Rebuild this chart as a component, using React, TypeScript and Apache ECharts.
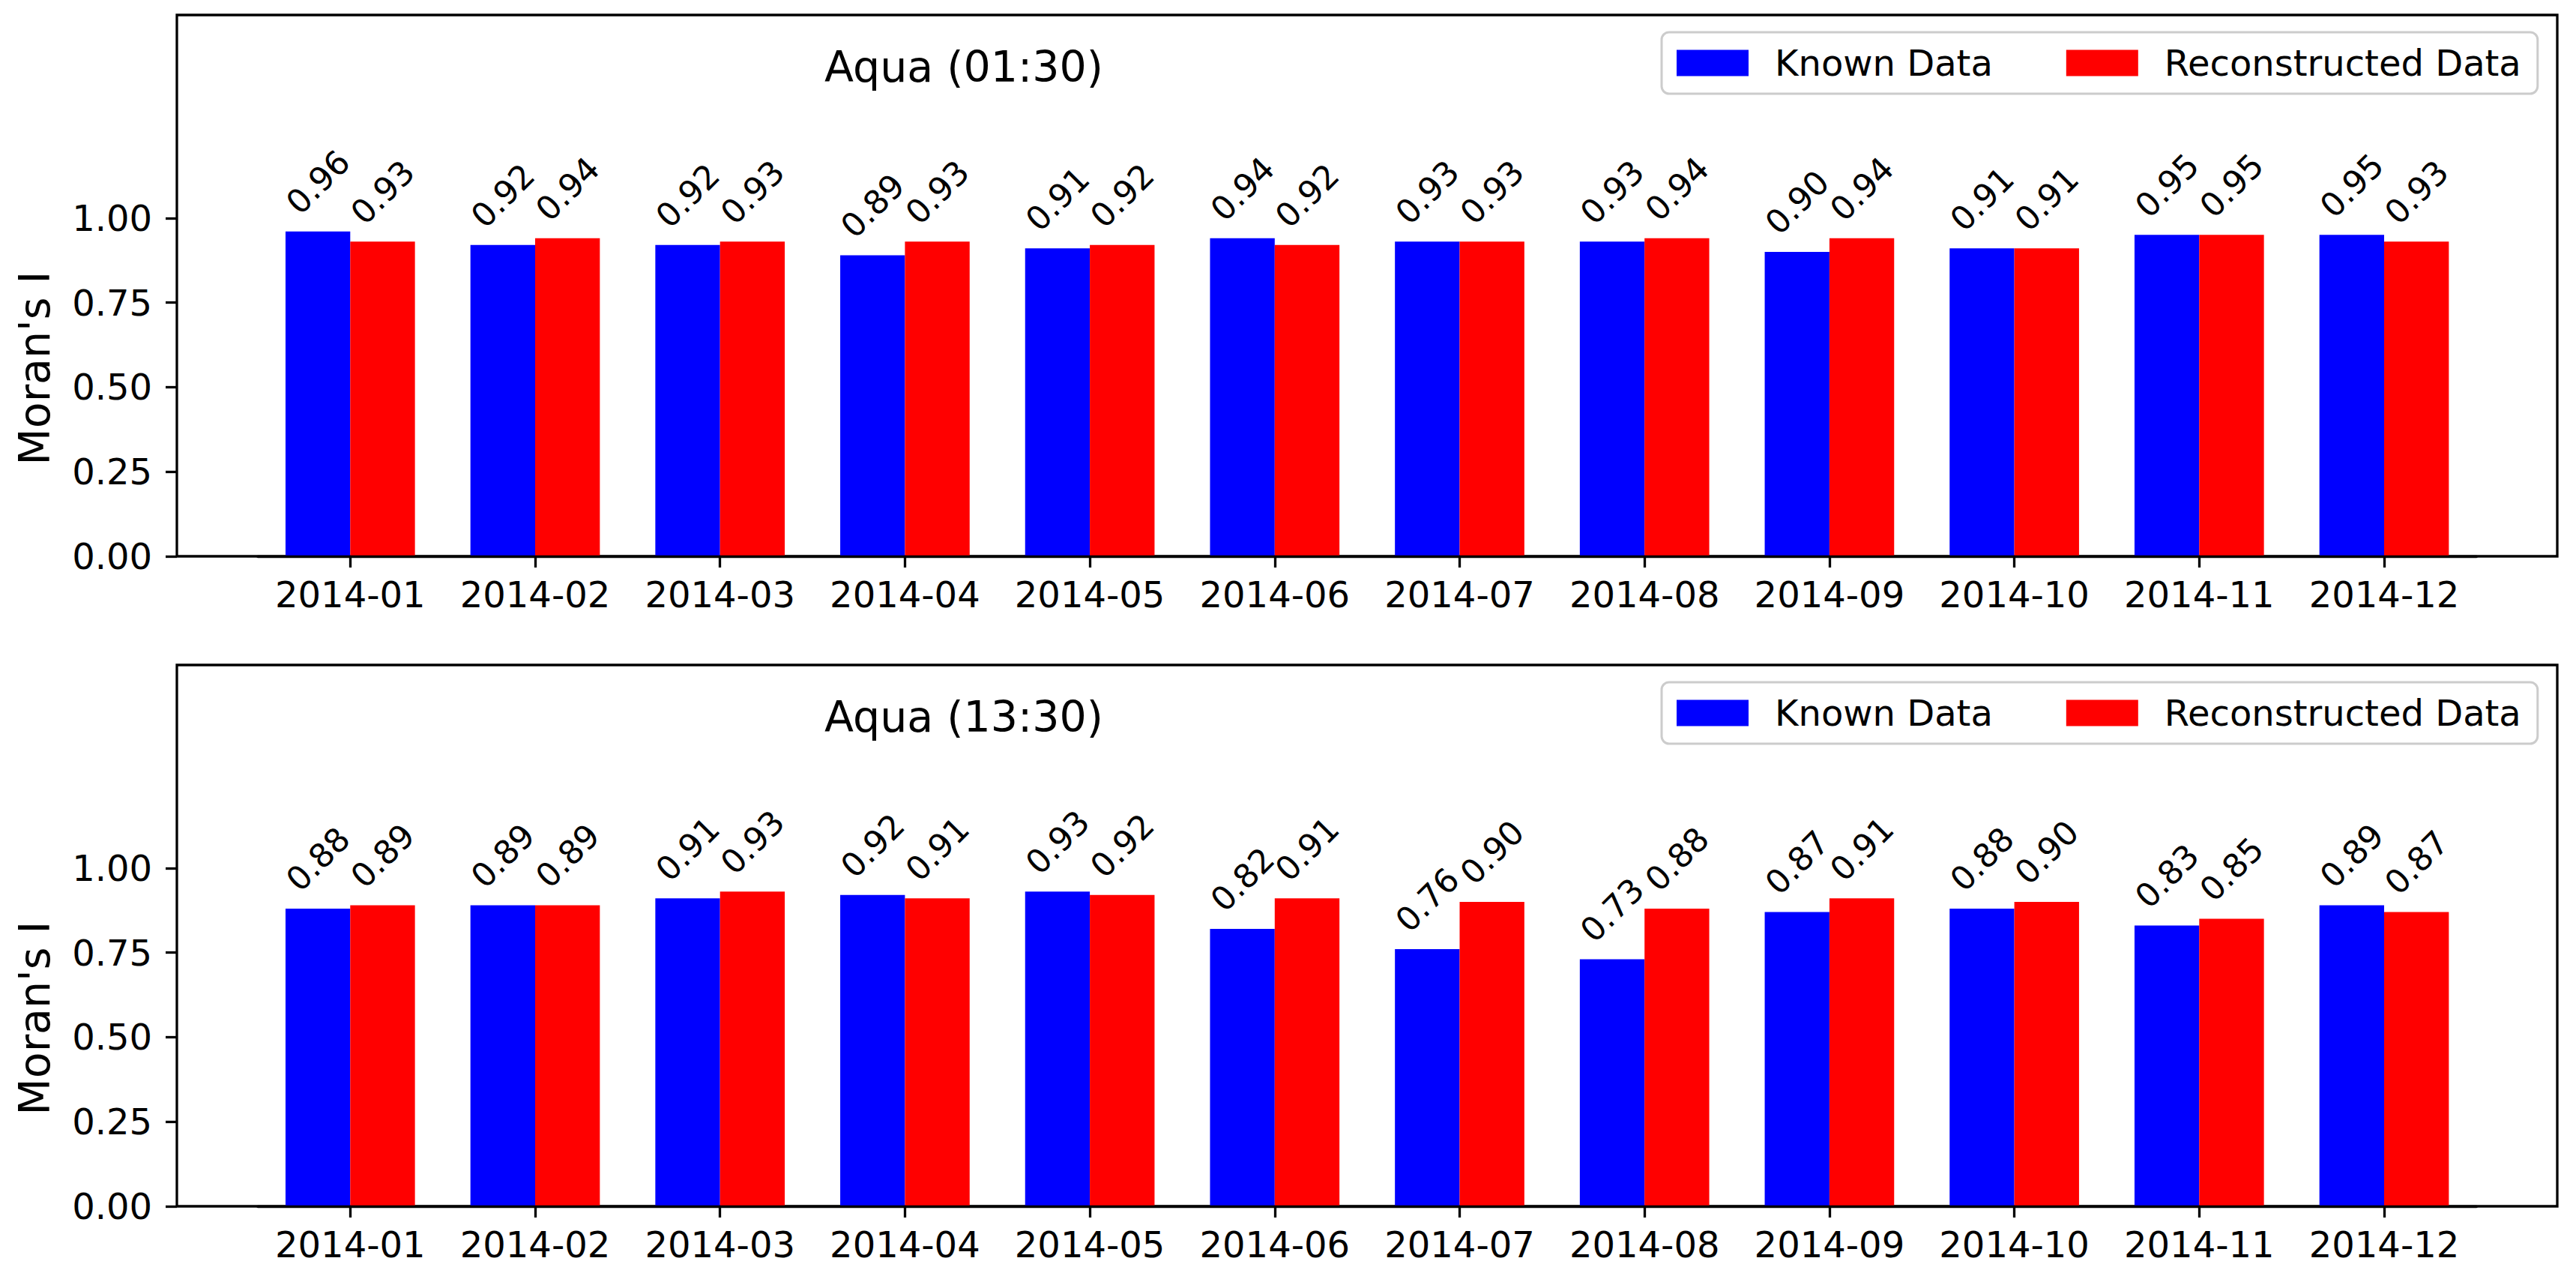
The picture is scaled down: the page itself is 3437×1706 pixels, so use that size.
import React, { useEffect, useRef } from "react";
import * as echarts from "echarts";

const months = [
  "2014-01", "2014-02", "2014-03", "2014-04", "2014-05", "2014-06",
  "2014-07", "2014-08", "2014-09", "2014-10", "2014-11", "2014-12",
];
const knownAM = [0.96, 0.92, 0.92, 0.89, 0.91, 0.94, 0.93, 0.93, 0.90, 0.91, 0.95, 0.95];
const reconAM = [0.93, 0.94, 0.93, 0.93, 0.92, 0.92, 0.93, 0.94, 0.94, 0.91, 0.95, 0.93];
const knownPM = [0.88, 0.89, 0.91, 0.92, 0.93, 0.82, 0.76, 0.73, 0.87, 0.88, 0.83, 0.89];
const reconPM = [0.89, 0.89, 0.93, 0.91, 0.92, 0.91, 0.90, 0.88, 0.91, 0.90, 0.85, 0.87];
const yTicks = [0, 0.25, 0.5, 0.75, 1.0];
const titles = ["Aqua (01:30)", "Aqua (13:30)"];
const seriesNames = ["Known Data", "Reconstructed Data"];
const colors = ["#0000ff", "#ff0000"];

const W = 3437;
const H = 1706;
const FONT = "DejaVu Sans";

export default function App() {
  const ref = useRef<HTMLDivElement>(null);
  useEffect(() => {
    if (!ref.current) return;
    const chart = echarts.init(ref.current, null, { renderer: "svg", width: W, height: H });

    const frameLeft = 236;
    const frameW = 3176;
    const plotH = 722;
    const tops = [20, 887];
    const band = 246.7;
    const firstTick = 467.3;
    const dataLeft = firstTick - band / 2;
    const dataW = band * 12;
    const barW = band * 0.35;

    const grids: any[] = [];
    const xAxes: any[] = [];
    const yAxes: any[] = [];
    const series: any[] = [];
    const legends: any[] = [];
    const graphics: any[] = [];
    const panels = [
      [knownAM, reconAM],
      [knownPM, reconPM],
    ];

    tops.forEach((top, p) => {
      grids.push({
        left: frameLeft, top, width: frameW, height: plotH,
        show: true, borderColor: "#000", borderWidth: 3.3, backgroundColor: "#fff",
      });
      grids.push({ left: dataLeft, top, width: dataW, height: plotH });
      const gf = p * 2;
      const gd = p * 2 + 1;
      xAxes.push({ gridIndex: gf, type: "value", show: false, min: 0, max: 1 });
      yAxes.push({
        gridIndex: gf, type: "value", min: 0, max: 1.6,
        axisLine: { show: false },
        splitLine: { show: false },
        axisTick: { show: true, length: 15, customValues: yTicks, lineStyle: { color: "#000", width: 3.3 } },
        axisLabel: {
          show: true, customValues: yTicks, margin: 33,
          formatter: (v: number) => v.toFixed(2),
          fontSize: 48, fontFamily: FONT, color: "#000",
        },
      });
      xAxes.push({
        gridIndex: gd, type: "category", data: months, boundaryGap: true, z: 5,
        axisLine: { show: true, lineStyle: { color: "#000", width: 3.3 } },
        axisTick: { show: true, alignWithLabel: true, length: 15, lineStyle: { color: "#000", width: 3.3 } },
        axisLabel: { show: true, interval: 0, margin: 27, fontSize: 48, fontFamily: FONT, color: "#000" },
        splitLine: { show: false },
      });
      yAxes.push({ gridIndex: gd, type: "value", min: 0, max: 1.6, show: false, splitLine: { show: false } });

      panels[p].forEach((vals, s) => {
        series.push({
          type: "bar",
          name: seriesNames[s],
          xAxisIndex: gd,
          yAxisIndex: gd,
          data: vals,
          barWidth: barW,
          barGap: "0%",
          itemStyle: { color: colors[s] },
          label: {
            show: true,
            position: "top",
            distance: 66,
            rotate: 45,
            align: "center",
            verticalAlign: "middle",
            formatter: (pr: any) => Number(pr.value).toFixed(2),
            fontSize: 44,
            fontFamily: FONT,
            color: "#000",
          },
        });
      });

      legends.push({
        left: 2217,
        top: top + 23,
        orient: "horizontal",
        data: seriesNames,
        icon: "rect",
        itemWidth: 96,
        itemHeight: 35,
        itemGap: 98,
        padding: [17, 22, 17, 20],
        backgroundColor: "rgba(255,255,255,0.8)",
        borderColor: "#cccccc",
        borderWidth: 3,
        borderRadius: 10,
        selectedMode: false,
        textStyle: { fontSize: 48, fontFamily: FONT, color: "#000", padding: [0, 0, 0, 30] },
      });

      graphics.push({
        type: "text",
        x: 1286,
        y: top + 69,
        style: {
          text: titles[p],
          fontSize: 57,
          fontFamily: FONT,
          fill: "#000",
          align: "center",
          verticalAlign: "middle",
          textAlign: "center",
          textVerticalAlign: "middle",
        },
      });
      graphics.push({
        type: "text",
        x: 46,
        y: top + 471,
        rotation: Math.PI / 2,
        style: {
          text: "Moran's I",
          fontSize: 57,
          fontFamily: FONT,
          fill: "#000",
          align: "center",
          verticalAlign: "middle",
          textAlign: "center",
          textVerticalAlign: "middle",
        },
      });
    });

    chart.setOption({
      animation: false,
      backgroundColor: "#fff",
      grid: grids,
      xAxis: xAxes,
      yAxis: yAxes,
      legend: legends,
      series,
      graphic: graphics,
    });
    return () => chart.dispose();
  }, []);
  return (
    <div
      ref={ref}
      style={{ position: "absolute", left: 0, top: 0, width: W, height: H, background: "#fff" }}
    />
  );
}
